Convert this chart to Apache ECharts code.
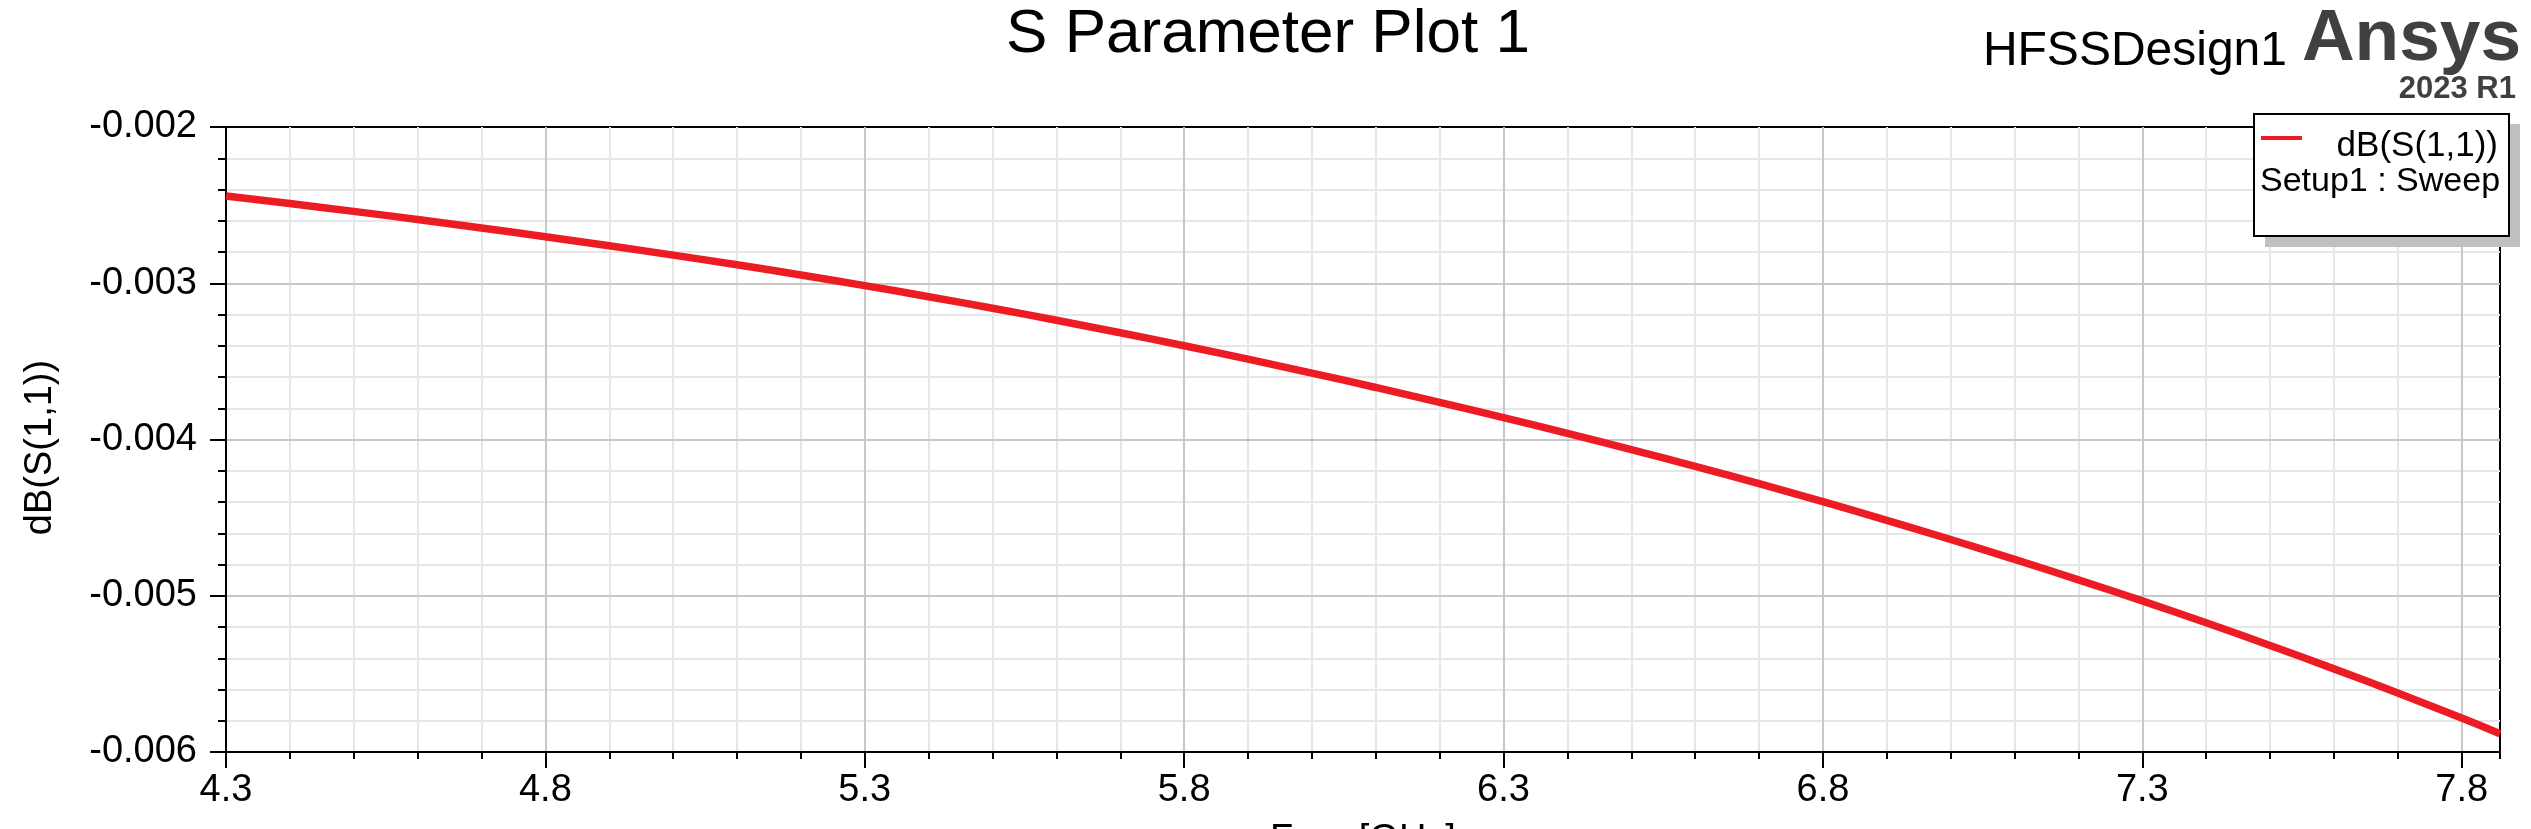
<!DOCTYPE html>
<html>
<head>
<meta charset="utf-8">
<script src="https://cdn.jsdelivr.net/npm/echarts@6/dist/echarts.min.js"></script>
<style>
html,body{margin:0;padding:0;background:#ffffff;overflow:hidden;}
#chart{width:2531px;height:829px;}
</style>
</head>
<body>
<div id="chart"></div>
<script>
// ---- data ----
const freqGHz = [4.3, 4.4, 4.5, 4.6, 4.7, 4.8, 4.9, 5.0, 5.1, 5.2, 5.3, 5.4, 5.5, 5.6, 5.7, 5.8, 5.9, 6.0, 6.1, 6.2, 6.3, 6.4, 6.5, 6.6, 6.7, 6.8, 6.9, 7.0, 7.1, 7.2, 7.3, 7.4, 7.5, 7.6, 7.7, 7.8, 7.86];
const dBS11 = [-0.002442, -0.002490, -0.002540, -0.002592, -0.002646, -0.002702, -0.002760, -0.002820, -0.002882, -0.002947,
               -0.003015, -0.003086, -0.003160, -0.003237, -0.003317, -0.003400, -0.003486, -0.003575, -0.003667, -0.003762,
               -0.003860, -0.003961, -0.004065, -0.004172, -0.004283, -0.004398, -0.004517, -0.004640, -0.004767, -0.004898,
               -0.005033, -0.005173, -0.005318, -0.005468, -0.005623, -0.005783, -0.005883];
const xTickLabels = ['4.3', '4.8', '5.3', '5.8', '6.3', '6.8', '7.3', '7.8'];
const yTickLabels = ['-0.006', '-0.005', '-0.004', '-0.003', '-0.002'];
const titleText = 'S Parameter Plot 1';
const xAxisTitle = 'Freq [GHz]';
const yAxisTitle = 'dB(S(1,1))';
const legendLine1 = 'dB(S(1,1))';
const legendLine2 = 'Setup1 : Sweep';
const designName = 'HFSSDesign1';
const brandName = 'Ansys';
const versionName = '2023 R1';

// ---- styles ----
const FONT = '"Liberation Sans", Arial, Helvetica, sans-serif';
const RED = '#ed1c24';
const MAJOR = '#c8c8c8';
const MINOR = '#e6e6e6';

const xMin = freqGHz[0];
const xMax = freqGHz[freqGHz.length - 1];
const yMin = parseFloat(yTickLabels[0]);
const yMax = parseFloat(yTickLabels[yTickLabels.length - 1]);
const xMajor = 0.5, xMinorStep = 0.1, yMajor = 0.001;

function pickLabel(list, v) {
  for (const s of list) { if (Math.abs(parseFloat(s) - v) < 1e-9) return s; }
  return '';
}

const chart = echarts.init(document.getElementById('chart'), null, {renderer: 'canvas'});

chart.setOption({
  animation: false,
  backgroundColor: '#ffffff',
  title: {
    text: titleText,
    left: 1263,
    textAlign: 'center',
    top: -1,
    textStyle: {fontFamily: FONT, fontSize: 62, fontWeight: 'normal', color: '#000'}
  },
  grid: {
    left: 226, right: 31, top: 127, bottom: 77,
    show: true, borderColor: '#000', borderWidth: 2, backgroundColor: 'transparent',
    containLabel: false,
    outerBoundsMode: 'none'
  },
  xAxis: [
    {
      type: 'value', min: xMin, max: xMax, interval: xMajor, z: 1,
      name: xAxisTitle, nameLocation: 'middle', nameGap: 70,
      nameTextStyle: {fontFamily: FONT, fontSize: 38, color: '#000'},
      axisLine: {show: true, lineStyle: {color: '#000', width: 2}},
      axisTick: {show: true, length: 16, lineStyle: {color: '#000', width: 2}},
      axisLabel: {show: true, margin: 20, showMaxLabel: false, fontFamily: FONT, fontSize: 38, color: '#000',
                  formatter: v => pickLabel(xTickLabels, v)},
      splitLine: {show: true, showMinLine: false, showMaxLine: false, lineStyle: {color: MAJOR, width: 2}}
    },
    {
      type: 'value', min: xMin, max: xMax, interval: xMinorStep, z: 0, position: 'bottom',
      axisLine: {show: false},
      axisTick: {show: true, length: 7, lineStyle: {color: '#000', width: 2}},
      axisLabel: {show: false},
      splitLine: {show: true, showMinLine: false, showMaxLine: false, lineStyle: {color: MINOR, width: 2}}
    }
  ],
  yAxis: {
    type: 'value', min: yMin, max: yMax, interval: yMajor, z: 1,
    name: yAxisTitle, nameLocation: 'middle', nameRotate: 90, nameGap: 166,
    nameTextStyle: {fontFamily: FONT, fontSize: 38, color: '#000', padding: [0, 16, 0, 0]},
    axisLine: {show: true, lineStyle: {color: '#000', width: 2}},
    axisTick: {show: true, length: 16, lineStyle: {color: '#000', width: 2}},
    minorTick: {show: true, splitNumber: 5, length: 8, lineStyle: {color: '#000', width: 2}},
    axisLabel: {show: true, margin: 29, fontFamily: FONT, fontSize: 38, color: '#000',
                formatter: v => pickLabel(yTickLabels, v)},
    splitLine: {show: true, showMinLine: false, showMaxLine: false, lineStyle: {color: MAJOR, width: 2}},
    minorSplitLine: {show: true, lineStyle: {color: MINOR, width: 2}}
  },
  series: [{
    name: legendLine1,
    type: 'line',
    xAxisIndex: 0,
    yAxisIndex: 0,
    data: freqGHz.map((f, i) => [f, dBS11[i]]),
    smooth: true,
    showSymbol: false,
    symbol: 'none',
    lineStyle: {color: RED, width: 7.5},
    z: 3
  }],
  graphic: [
    {type: 'text', z: 100, style: {x: 2287, y: 52, text: designName, font: '48px ' + FONT, fill: '#000', align: 'right', verticalAlign: 'middle'}},
    {type: 'text', z: 100, style: {x: 2521, y: 40, text: brandName, font: 'bold 73px ' + FONT, fill: '#404040', align: 'right', verticalAlign: 'middle'}},
    {type: 'text', z: 100, style: {x: 2516, y: 89, text: versionName, font: 'bold 31px ' + FONT, fill: '#404040', align: 'right', verticalAlign: 'middle'}},
    {type: 'rect', z: 100, shape: {x: 2265, y: 124, width: 255, height: 123}, style: {fill: '#c0c0c0'}},
    {type: 'rect', z: 101, shape: {x: 2254, y: 114, width: 255, height: 122}, style: {fill: '#ffffff', stroke: '#000', lineWidth: 2}},
    {type: 'line', z: 102, shape: {x1: 2261, y1: 138, x2: 2302, y2: 138}, style: {stroke: RED, lineWidth: 4}},
    {type: 'text', z: 102, style: {x: 2498, y: 146, text: legendLine1, font: '35px ' + FONT, fill: '#000', align: 'right', verticalAlign: 'middle'}},
    {type: 'text', z: 102, style: {x: 2260, y: 182, text: legendLine2, font: '34px ' + FONT, fill: '#000', align: 'left', verticalAlign: 'middle'}}
  ]
});
</script>
</body>
</html>
